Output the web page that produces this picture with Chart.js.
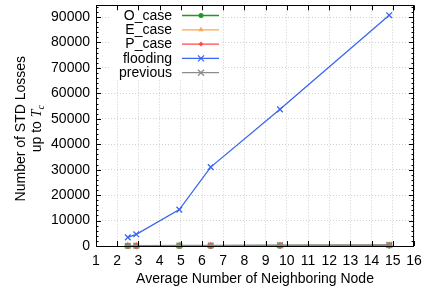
<!DOCTYPE html>
<html><head><meta charset="utf-8">
<script src="https://cdn.jsdelivr.net/npm/chart.js@4"></script>
<style>html,body{margin:0;padding:0;background:#fff}</style>
</head><body>
<canvas id="c" width="428" height="294"></canvas>
<script>
// ---- data ----
const xValues = [2.5, 2.9, 4.93, 6.41, 9.68, 14.83];
const oCase = [60, 80, 110, 140, 190, 280];
const eCase = [50, 70, 100, 130, 170, 260];
const pCase = [55, 75, 105, 135, 180, 270];
const flooding = [3400, 4600, 14300, 31000, 53700, 90700];
const previous = [120, 150, 210, 260, 330, 450];
const seriesLabels = ['O_case', 'E_case', 'P_case', 'flooding', 'previous'];
const xTicks = [1,2,3,4,5,6,7,8,9,10,11,12,13,14,15,16];
const yTicks = [0,10000,20000,30000,40000,50000,60000,70000,80000,90000];
const xTitle = 'Average Number of Neighboring Node';
const yTitle1 = 'Number of STD Losses';
const yTitle2a = 'up to ';
const yTitle2b = 'T';
const yTitle2c = 'c';

const FONT = '"Liberation Sans", Arial, sans-serif';
const colors = ['#1e9a1e', '#ffa64d', '#ff4a4a', '#3a66f0', '#8c8c8c'];
const styles = ['circle', 'triangle', 'rectRot', 'crossRot', 'crossRot'];
const radii = [2.5, 3, 2.5, 4, 4];
const drawOrder = [4, 3, 1, 2, 0];
const values = [oCase, eCase, pCase, flooding, previous];

const datasets = seriesLabels.map((lab, i) => ({
  label: lab,
  data: xValues.map((x, j) => ({x: x, y: values[i][j]})),
  borderColor: colors[i],
  backgroundColor: colors[i],
  borderWidth: 1.3,
  pointStyle: styles[i],
  pointRadius: radii[i],
  pointBorderWidth: 1.3,
  pointHoverRadius: radii[i],
  order: drawOrder[i],
  clip: false,
  tension: 0
}));

function drawMarker(ctx, style, x, y, r, color) {
  ctx.save();
  ctx.strokeStyle = color; ctx.fillStyle = color; ctx.lineWidth = 1.3;
  ctx.beginPath();
  if (style === 'circle') { ctx.arc(x, y, r, 0, Math.PI * 2); ctx.fill(); }
  else if (style === 'triangle') { ctx.moveTo(x, y - r); ctx.lineTo(x + r * 0.87, y + r * 0.5); ctx.lineTo(x - r * 0.87, y + r * 0.5); ctx.closePath(); ctx.fill(); }
  else if (style === 'rectRot') { ctx.moveTo(x, y - r); ctx.lineTo(x + r, y); ctx.lineTo(x, y + r); ctx.lineTo(x - r, y); ctx.closePath(); ctx.fill(); }
  else { const d = r * 0.75; ctx.moveTo(x - d, y - d); ctx.lineTo(x + d, y + d); ctx.moveTo(x + d, y - d); ctx.lineTo(x - d, y + d); ctx.stroke(); }
  ctx.restore();
}

const framePlugin = {
  id: 'frame',
  beforeDatasetsDraw(chart) {
    const ctx = chart.ctx;
    ctx.save();
    ctx.fillStyle = '#fff';
    ctx.fillRect(110, 5, 112, 75);
    ctx.restore();
  },
  afterDraw(chart) {
    const ctx = chart.ctx, a = chart.chartArea;
    const xs = chart.scales.x, ys = chart.scales.y;
    ctx.save();
    ctx.strokeStyle = '#000'; ctx.lineWidth = 1;
    ctx.strokeRect(Math.round(a.left) + 0.5, Math.round(a.top) + 0.5, Math.round(a.right - a.left) - 1, Math.round(a.bottom - a.top));
    ctx.beginPath();
    xTicks.forEach(v => {
      const px = Math.round(xs.getPixelForValue(v)) + 0.5;
      ctx.moveTo(px, a.bottom); ctx.lineTo(px, a.bottom - 5);
      ctx.moveTo(px, a.top); ctx.lineTo(px, a.top + 5);
    });
    for (let v = 0; v <= ys.max; v += 2000) {
      const py = Math.round(ys.getPixelForValue(v)) + 0.5;
      const len = (v % 10000 === 0) ? 5 : 2.5;
      ctx.moveTo(a.left, py); ctx.lineTo(a.left + len, py);
      ctx.moveTo(a.right, py); ctx.lineTo(a.right - len, py);
    }
    ctx.stroke();

    // legend
    ctx.font = '14px ' + FONT;
    ctx.textAlign = 'right'; ctx.textBaseline = 'middle';
    seriesLabels.forEach((lab, i) => {
      const y = 15.5 + i * 14.3;
      ctx.fillStyle = '#000';
      ctx.fillText(lab, 172, y + 0.5);
      ctx.strokeStyle = colors[i]; ctx.lineWidth = 1.3;
      ctx.beginPath(); ctx.moveTo(182, y); ctx.lineTo(219, y); ctx.stroke();
      drawMarker(ctx, styles[i], 201, y, radii[i], colors[i]);
    });

    // x title
    ctx.fillStyle = '#000';
    ctx.textAlign = 'center'; ctx.textBaseline = 'middle';
    ctx.fillText(xTitle, (a.left + a.right) / 2, 279);

    // y title
    const cy = (a.top + a.bottom) / 2 + 3;
    ctx.save();
    ctx.translate(21, cy); ctx.rotate(-Math.PI / 2);
    ctx.fillText(yTitle1, 0, 0);
    ctx.restore();
    ctx.save();
    ctx.translate(37, cy); ctx.rotate(-Math.PI / 2);
    ctx.font = '14px ' + FONT;
    const w1 = ctx.measureText(yTitle2a).width;
    ctx.font = 'italic 14px "Liberation Serif", serif';
    const w2 = ctx.measureText(yTitle2b).width;
    ctx.font = 'italic 10px "Liberation Serif", serif';
    const w3 = ctx.measureText(yTitle2c).width;
    let sx = -(w1 + w2 + w3) / 2;
    ctx.textAlign = 'left';
    ctx.font = '14px ' + FONT;
    ctx.fillText(yTitle2a, sx, 0); sx += w1;
    ctx.font = 'italic 14px "Liberation Serif", serif';
    ctx.fillText(yTitle2b, sx, 0); sx += w2;
    ctx.font = 'italic 10px "Liberation Serif", serif';
    ctx.fillText(yTitle2c, sx, 4);
    ctx.restore();
    ctx.restore();
  }
};

new Chart(document.getElementById('c'), {
  type: 'line',
  data: { datasets: datasets },
  options: {
    responsive: false,
    animation: false,
    devicePixelRatio: 1,
    layout: { padding: { left: 0, right: 14, top: 4, bottom: 0 } },
    plugins: { legend: { display: false }, tooltip: { enabled: false } },
    scales: {
      x: {
        type: 'linear', min: 1, max: 16,
        afterFit: s => { s.height = 48; s.paddingLeft = 0; s.paddingRight = 0; },
        afterBuildTicks: s => { s.ticks = xTicks.map(v => ({value: v})); },
        ticks: { stepSize: 1, padding: 7, color: '#000', font: { size: 14, family: FONT }, maxRotation: 0, autoSkip: false, callback: v => String(v) },
        grid: { color: '#cfcfcf', lineWidth: 1, drawTicks: false },
        border: { display: false, dash: [1, 2] }
      },
      y: {
        type: 'linear', min: 0, max: 94600,
        afterFit: s => { s.width = 96; s.paddingTop = 0; s.paddingBottom = 0; },
        afterBuildTicks: s => { s.ticks = yTicks.map(v => ({value: v})); },
        ticks: { padding: 6, color: '#000', font: { size: 14, family: FONT }, callback: v => String(v) },
        grid: { color: '#cfcfcf', lineWidth: 1, drawTicks: false },
        border: { display: false, dash: [1, 2] }
      }
    }
  },
  plugins: [framePlugin]
});
</script>
</body></html>
